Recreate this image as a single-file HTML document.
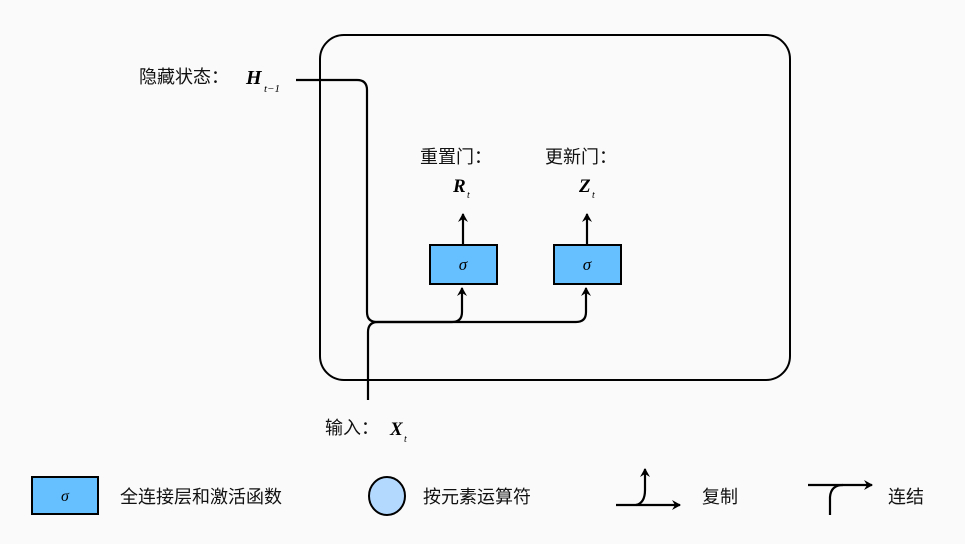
<!DOCTYPE html>
<html><head><meta charset="utf-8"><style>
body{margin:0;background:#fafafa;}
svg{display:block}
.t{font-family:"Liberation Sans","Noto Sans CJK SC",sans-serif;font-size:18px;fill:#111}
.m{font-family:"Liberation Serif",serif;font-style:italic;font-weight:bold;fill:#000}
.s{font-family:"Liberation Serif",serif;font-style:italic;fill:#000}
</style></head><body>
<svg width="965" height="544" viewBox="0 0 965 544" xmlns="http://www.w3.org/2000/svg">
<defs><marker id="a" markerWidth="10" markerHeight="10" refX="8" refY="5" orient="auto" markerUnits="userSpaceOnUse"><path d="M0,0 L9,5 L0,10 L3,5 z" fill="#000"/></marker></defs>
<rect x="0" y="0" width="965" height="544" fill="#fafafa"/>
<rect x="320" y="35" width="470" height="345" rx="24" fill="none" stroke="#000" stroke-width="2"/>
<g fill="none" stroke="#000" stroke-width="2.2">
<path d="M296,80 H357 Q367,80 367,90 V312 Q367,322 377,322 H452 Q462,322 462,312 V288" marker-end="url(#a)"/>
<path d="M368,400 V332 Q368,322 378,322 H576 Q586,322 586,312 V288" marker-end="url(#a)"/>
<path d="M463,245 V214" marker-end="url(#a)"/>
<path d="M587,245 V214" marker-end="url(#a)"/>
</g>
<rect x="430" y="245" width="67" height="39" fill="#66bfff" stroke="#000" stroke-width="2"/>
<rect x="554" y="245" width="67" height="39" fill="#66bfff" stroke="#000" stroke-width="2"/>
<text x="463" y="270" class="s" font-size="17" text-anchor="middle">σ</text>
<text x="587" y="270" class="s" font-size="17" text-anchor="middle">σ</text>
<text x="139" y="83" class="t">隐藏状态：</text>
<text x="246" y="84" class="m" font-size="20">H</text><text x="264" y="92" class="s" font-size="11">t−1</text>
<text x="420" y="163" class="t">重置门：</text>
<text x="545" y="163" class="t">更新门：</text>
<text x="453" y="192" class="m" font-size="19">R</text><text x="467" y="198" class="s" font-size="10">t</text>
<text x="579" y="192" class="m" font-size="19">Z</text><text x="592" y="198" class="s" font-size="10">t</text>
<text x="325" y="434" class="t">输入：</text>
<text x="390" y="435" class="m" font-size="19">X</text><text x="404" y="442" class="s" font-size="10">t</text>
<rect x="32" y="477" width="66" height="37" fill="#66bfff" stroke="#000" stroke-width="2"/>
<text x="65" y="501" class="s" font-size="16" text-anchor="middle">σ</text>
<text x="120" y="503" class="t">全连接层和激活函数</text>
<ellipse cx="387" cy="496" rx="18" ry="19" fill="#b3d9ff" stroke="#000" stroke-width="2"/>
<text x="423" y="503" class="t">按元素运算符</text>
<g fill="none" stroke="#000" stroke-width="2.2">
<path d="M616,505 H680" marker-end="url(#a)"/>
<path d="M636,505 Q645,503 645,490 V469" marker-end="url(#a)"/>
<path d="M808,485 H872" marker-end="url(#a)"/>
<path d="M830,515 V497 Q831,485 843,485"/>
</g>
<text x="702" y="503" class="t">复制</text>
<text x="888" y="503" class="t">连结</text>
</svg>
</body></html>
